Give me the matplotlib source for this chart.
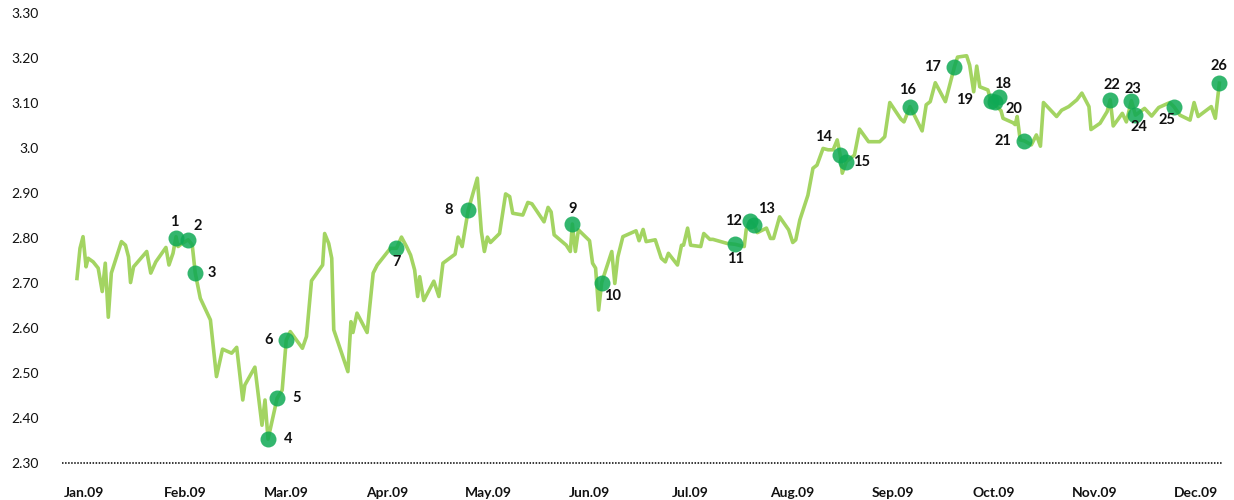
import matplotlib
matplotlib.use("Agg")
import matplotlib.pyplot as plt
from matplotlib.ticker import FixedLocator, FixedFormatter

plt.rcParams["font.family"] = ["Lato", "DejaVu Sans"]

# Month tick labels (one per month, evenly spaced)
months = ["Jan.09", "Feb.09", "Mar.09", "Apr.09", "May.09", "Jun.09",
          "Jul.09", "Aug.09", "Sep.09", "Oct.09", "Nov.09", "Dec.09"]

# Price series: position in months from the Jan.09 tick, and value
t = [-0.07, -0.04, -0.01, 0.02, 0.04, 0.09, 0.14, 0.18, 0.21, 0.24, 0.27,
     0.37, 0.41, 0.44, 0.46, 0.49, 0.62, 0.66, 0.71, 0.81, 0.84, 0.88, 0.91,
     0.93, 0.97, 1.03, 1.07, 1.10, 1.15, 1.25, 1.31, 1.37, 1.46, 1.51, 1.57,
     1.59, 1.69, 1.76, 1.79, 1.82, 1.91, 1.96, 2.00, 2.04, 2.16, 2.20, 2.25,
     2.36, 2.38, 2.42, 2.45, 2.47, 2.61, 2.64, 2.66, 2.70, 2.80, 2.86, 2.90,
     3.03, 3.09, 3.14, 3.19, 3.23, 3.27, 3.30, 3.32, 3.36, 3.46, 3.51, 3.55,
     3.67, 3.70, 3.74, 3.80, 3.89, 3.93, 3.96, 3.99, 4.02, 4.11, 4.17, 4.21,
     4.24, 4.34, 4.39, 4.43, 4.55, 4.59, 4.62, 4.65, 4.77, 4.81, 4.83, 4.86,
     4.89, 5.00, 5.03, 5.06, 5.09, 5.12, 5.22, 5.25, 5.28, 5.33, 5.46, 5.49,
     5.53, 5.56, 5.65, 5.71, 5.75, 5.78, 5.87, 5.91, 5.93, 5.97, 6.00, 6.10,
     6.13, 6.19, 6.22, 6.36, 6.44, 6.53, 6.55, 6.59, 6.63, 6.66, 6.75, 6.79,
     6.82, 6.88, 6.97, 7.01, 7.04, 7.08, 7.16, 7.21, 7.25, 7.31, 7.36, 7.41,
     7.45, 7.48, 7.50, 7.54, 7.62, 7.67, 7.76, 7.87, 7.92, 7.97, 8.08, 8.11,
     8.17, 8.29, 8.33, 8.37, 8.42, 8.52, 8.61, 8.64, 8.73, 8.76, 8.80, 8.83,
     8.86, 8.94, 8.97, 9.07, 9.09, 9.19, 9.21, 9.23, 9.26, 9.30, 9.37, 9.42,
     9.46, 9.49, 9.62, 9.67, 9.74, 9.82, 9.87, 9.94, 9.96, 10.05, 10.12,
     10.15, 10.18, 10.27, 10.31, 10.36, 10.40, 10.49, 10.56, 10.63, 10.74,
     10.78, 10.84, 10.94, 10.98, 11.02, 11.15, 11.19, 11.23]
price = [2.710, 2.777, 2.803, 2.736, 2.755, 2.747, 2.733, 2.681, 2.744, 2.624,
         2.722, 2.792, 2.784, 2.758, 2.701, 2.736, 2.770, 2.722, 2.747, 2.779,
         2.740, 2.766, 2.803, 2.781, 2.788, 2.796, 2.785, 2.722, 2.666, 2.618,
         2.492, 2.553, 2.544, 2.557, 2.440, 2.473, 2.513, 2.384, 2.440, 2.353,
         2.444, 2.462, 2.573, 2.592, 2.555, 2.581, 2.705, 2.740, 2.810, 2.788,
         2.755, 2.596, 2.503, 2.614, 2.590, 2.633, 2.590, 2.722, 2.740, 2.777,
         2.777, 2.802, 2.781, 2.762, 2.729, 2.670, 2.714, 2.661, 2.704, 2.670,
         2.744, 2.764, 2.802, 2.781, 2.862, 2.933, 2.814, 2.770, 2.802, 2.790,
         2.810, 2.898, 2.892, 2.855, 2.851, 2.879, 2.876, 2.836, 2.868, 2.858,
         2.807, 2.784, 2.770, 2.831, 2.770, 2.818, 2.794, 2.744, 2.733, 2.640,
         2.701, 2.770, 2.699, 2.758, 2.803, 2.816, 2.794, 2.819, 2.792, 2.796,
         2.755, 2.747, 2.766, 2.740, 2.784, 2.784, 2.822, 2.784, 2.781, 2.810,
         2.797, 2.797, 2.788, 2.786, 2.781, 2.819, 2.838, 2.829, 2.812, 2.822,
         2.799, 2.799, 2.847, 2.818, 2.790, 2.796, 2.840, 2.895, 2.955, 2.962,
         2.999, 2.996, 2.996, 3.018, 2.984, 2.944, 2.970, 2.984, 3.042, 3.014,
         3.014, 3.025, 3.101, 3.064, 3.058, 3.092, 3.038, 3.096, 3.103, 3.145,
         3.103, 3.181, 3.202, 3.205, 3.184, 3.125, 3.182, 3.136, 3.129, 3.105,
         3.083, 3.066, 3.056, 3.052, 3.070, 3.018, 3.016, 3.007, 3.029, 3.004,
         3.101, 3.070, 3.084, 3.092, 3.107, 3.122, 3.092, 3.041, 3.055, 3.081,
         3.107, 3.049, 3.077, 3.058, 3.105, 3.073, 3.088, 3.071, 3.090, 3.101,
         3.092, 3.073, 3.062, 3.101, 3.070, 3.092, 3.066, 3.144]

# Numbered events along the series
event_no = list(range(1, 27))
event_t = [0.91, 1.03, 1.10, 1.82, 1.91, 2.00, 3.09, 3.80, 4.83, 5.12,
           6.44, 6.59, 6.63, 7.48, 7.54, 8.17, 8.61, 9.05, 8.97, 9.01,
           9.30, 10.15, 10.36, 10.40, 10.78, 11.23]
event_val = [2.800, 2.796, 2.722, 2.353, 2.444, 2.573, 2.777, 2.862, 2.831,
             2.701, 2.786, 2.838, 2.829, 2.984, 2.970, 3.092, 3.181, 3.113,
             3.105, 3.102, 3.016, 3.107, 3.105, 3.073, 3.092, 3.144]

# Label placement around each event marker (pixels: dx, dy)
label_offsets = [(-2, 16), (10, 14), (17, 0), (20, 0), (19, 0), (-18, 0),
                 (0, -14), (-20, 0), (0, 15), (11, -13), (0, -15), (-17, 0),
                 (12, 16), (-17, 18), (15, 0), (-2, 17), (-22, 0), (4, 13),
                 (-26, 1), (19, -7), (-21, 0), (2, 15), (2, 12), (3, -12),
                 (-7, -13), (0, 17)]

y_ticks = [2.30, 2.40, 2.50, 2.60, 2.70, 2.80, 2.90, 3.00, 3.10, 3.20, 3.30]
y_tick_labels = ["2.30", "2.40", "2.50", "2.60", "2.70", "2.80", "2.90",
                 "3.0", "3.10", "3.20", "3.30"]

LINE_COLOR = "#a3d462"
DOT_COLOR = "#0fa955"
TEXT_COLOR = "#111111"

fig = plt.figure(figsize=(12.34, 5.0), dpi=100)
ax = fig.add_axes([62 / 1234, 37 / 500, 1160 / 1234, 450 / 500])

ax.plot(t, price, color=LINE_COLOR, linewidth=2.6, solid_joinstyle="round",
        zorder=2)
ax.plot(event_t, event_val, linestyle="none", marker="o", markersize=11.5,
        markerfacecolor=DOT_COLOR, markeredgewidth=0, alpha=0.85, zorder=3,
        clip_on=False)

for n, x, y, (dx, dy) in zip(event_no, event_t, event_val, label_offsets):
    ax.annotate(str(n), (x, y), xytext=(dx, dy), textcoords="offset pixels",
                ha="center", va="center", fontsize=10.5, fontweight="bold",
                color=TEXT_COLOR, zorder=4)

# Dotted baseline
ax.axhline(2.30, color="#000000", linestyle=(0, (1.0, 1.0)), linewidth=1.1,
           zorder=1, clip_on=False)

ax.set_xlim(-0.218, 11.256)
ax.set_ylim(2.30, 3.30)

ax.xaxis.set_major_locator(FixedLocator(list(range(len(months)))))
ax.xaxis.set_major_formatter(FixedFormatter(months))
ax.yaxis.set_major_locator(FixedLocator(y_ticks))
ax.yaxis.set_major_formatter(FixedFormatter(y_tick_labels))

ax.tick_params(axis="x", length=0, pad=17, labelsize=10, colors=TEXT_COLOR)
ax.tick_params(axis="y", length=0, pad=17, labelsize=10, colors=TEXT_COLOR)
for lbl in ax.get_xticklabels():
    lbl.set_fontweight("bold")

for side in ("top", "right", "bottom", "left"):
    ax.spines[side].set_visible(False)

fig.savefig("out.png", dpi=100, facecolor="white")
